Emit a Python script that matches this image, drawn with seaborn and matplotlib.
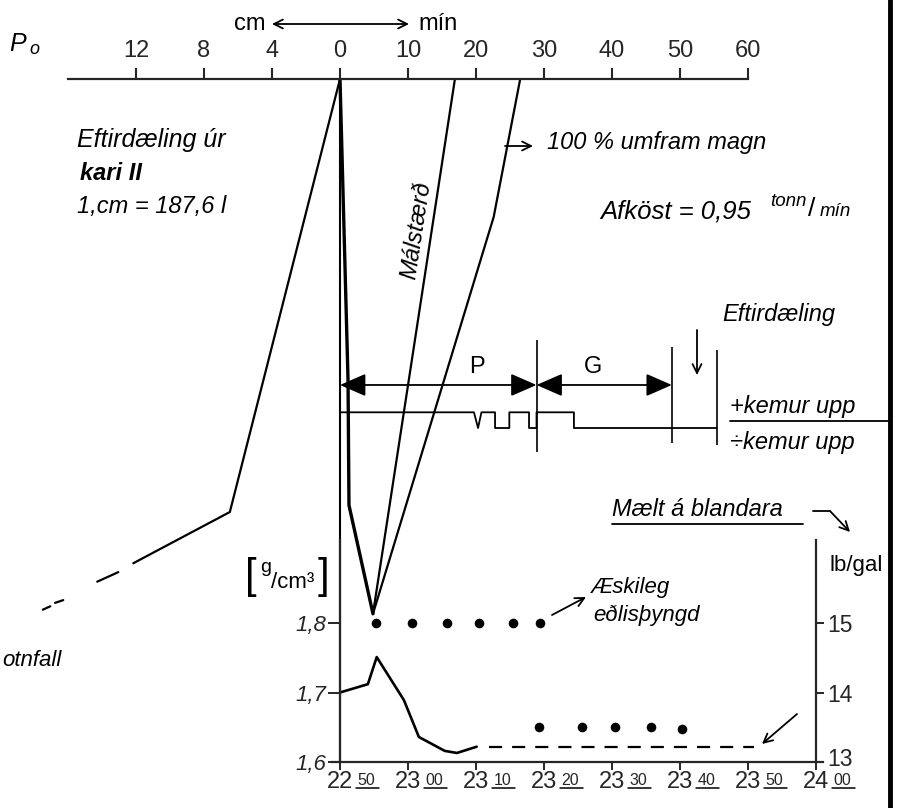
import matplotlib
matplotlib.use("Agg")
import matplotlib.pyplot as plt
from matplotlib.lines import Line2D
from matplotlib.patches import FancyArrowPatch
from matplotlib.transforms import ScaledTranslation
import seaborn as sns

W, H = 903, 808

# ---------------- data ----------------
# top scale: left of 0 in cm, right of 0 in minutes (4 cm == 10 min on paper)
top_ticks = [-30, -20, -10, 0, 10, 20, 30, 40, 50, 60]
top_tick_labels = ["12", "8", "4", "0", "10", "20", "30", "40", "50", "60"]

# upper diagram lines (x: top-scale units, y: depth below the top scale)
eftir_x = [0.0, -16.2, -30.4]
eftir_y = [0.0, 63.4, 70.9]
eftir_tail_x = [-32.6, -35.7, -40.7, -41.9, -42.6, -43.7]
eftir_tail_y = [72.2, 73.6, 76.3, 76.7, 77.2, 77.7]

vline_x = [0.0, 1.18, 1.32, 4.85]
vline_y = [0.0, 44.1, 62.4, 78.3]
malst_x = [16.9, 4.85]
malst_y = [0.0, 78.3]
umfram_x = [26.5, 22.6, 4.85]
umfram_y = [0.0, 20.2, 78.3]

# "kemur upp" signal (1 = +kemur upp, 0 = ÷kemur upp)
sig_t = [0, 19.7, 20.3, 20.8, 22.8, 22.8, 24.9, 24.9, 27.8, 27.8, 28.9, 28.9, 34.4, 34.4, 55.4]
sig_state = [1, 1, 0, 1, 1, 0, 0, 1, 1, 0, 0, 1, 1, 0, 0]

# phases
phase_bounds = [0.0, 28.9, 48.8]
phase_labels = ["P", "G"]
phase_label_x = [20.2, 37.2]
marker_t = [28.9, 48.8, 55.4]

# lower diagram: time in minutes after 22:50
time_ticks = [0, 10, 20, 30, 40, 50, 60, 70]
time_hours = ["22", "23", "23", "23", "23", "23", "23", "24"]
time_mins = ["50", "00", "10", "20", "30", "40", "50", "00"]

dens_t = [0.0, 4.1, 5.4, 9.4, 11.6, 15.4, 17.2, 20.1]
dens_v = [1.700, 1.712, 1.751, 1.689, 1.636, 1.616, 1.613, 1.622]
dens_dash_t = [21.9, 60.9]
dens_dash_v = [1.622, 1.622]

target_hi_t = [5.3, 10.6, 15.7, 20.4, 25.4, 29.4]
target_hi_v = [1.80] * 6
target_lo_t = [29.3, 35.6, 40.4, 45.7, 50.3]
target_lo_v = [1.65, 1.65, 1.65, 1.65, 1.648]

dens_ticks = [1.6, 1.7, 1.8]
dens_labels = ["1,6", "1,7", "1,8"]
lb_ticks = [13, 14, 15]

# ---------------- style ----------------
sns.set_style("white")
plt.rcParams["font.family"] = ["Liberation Sans", "DejaVu Sans"]
plt.rcParams["axes.unicode_minus"] = False
K = "black"
LW = 1.6

fig = plt.figure(figsize=(W / 100, H / 100), dpi=100)
fig.patch.set_facecolor("white")


def fx(px):
    return px / W


def fy(py):
    return 1 - py / H


def ftext(px, py, s, size=17, style="italic", ha="left", va="center", **kw):
    fig.text(fx(px), fy(py), s, fontsize=size, style=style, ha=ha, va=va, color=K, **kw)


def farrow(p0, p1, style="->", lw=1.3, ms=16):
    fig.add_artist(FancyArrowPatch(
        posA=(fx(p0[0]), fy(p0[1])), posB=(fx(p1[0]), fy(p1[1])),
        transform=fig.transFigure, arrowstyle=style, mutation_scale=ms,
        lw=lw, color=K, shrinkA=0, shrinkB=0))


def fline(xs, ys, lw=1.3):
    fig.add_artist(Line2D([fx(v) for v in xs], [fy(v) for v in ys],
                          transform=fig.transFigure, color=K, lw=lw))


# ---------------- main (upper) axes ----------------
px0, sx = 340.0, 6.8
ax = fig.add_axes([fx(px0 - 40 * sx), fy(762), 100 * sx / W, 683 / H])
ax.set_xlim(-40, 60)
ax.set_ylim(100, 0)
ax.patch.set_alpha(0)
for s in ["left", "right", "bottom"]:
    ax.spines[s].set_visible(False)
ax.spines["top"].set_linewidth(1.6)
ax.xaxis.tick_top()
ax.set_xticks(top_ticks, labels=top_tick_labels)
ax.tick_params(axis="x", direction="out", length=8, width=1.5, pad=4, labelsize=17)
ax.set_yticks([])
ax.set_xlabel("")
ax.set_ylabel("")
ax.grid(False)

# vertical zero line (common axis)
ax.axvline(0, color=K, lw=1.5)

sns.lineplot(x=eftir_x, y=eftir_y, sort=False, estimator=None, ax=ax, color=K, lw=LW, clip_on=False)
for i in range(0, len(eftir_tail_x), 2):
    sns.lineplot(x=eftir_tail_x[i:i + 2], y=eftir_tail_y[i:i + 2], sort=False, estimator=None,
                 ax=ax, color=K, lw=LW, clip_on=False)
sns.lineplot(x=vline_x, y=vline_y, sort=False, estimator=None, ax=ax, color=K, lw=2.4)
sns.lineplot(x=malst_x, y=malst_y, sort=False, estimator=None, ax=ax, color=K, lw=LW)
sns.lineplot(x=umfram_x, y=umfram_y, sort=False, estimator=None, ax=ax, color=K, lw=LW)

# signal
SIG_HI, SIG_AMP = 48.8, 2.3
sig_y = [SIG_HI + (1 - s) * SIG_AMP for s in sig_state]
sns.lineplot(x=sig_t, y=sig_y, sort=False, estimator=None, ax=ax, color=K, lw=1.3)

# phase arrows
ARR_Y = 44.8
for a, b, lab, lx in zip(phase_bounds[:-1], phase_bounds[1:], phase_labels, phase_label_x):
    ax.annotate("", xy=(b, ARR_Y), xytext=(a, ARR_Y),
                arrowprops=dict(arrowstyle="<|-|>,head_length=0.8,head_width=0.35",
                                mutation_scale=20, lw=1.3, color=K, shrinkA=0, shrinkB=0))
    ax.text(lx, ARR_Y - 2.7, lab, fontsize=17, ha="center", va="center", color=K)
for t, (y0, y1) in zip(marker_t, [(38.2, 54.6), (39.2, 53.3), (39.7, 53.6)]):
    ax.vlines(t, y0, y1, color=K, lw=1.2)

# ---------------- lower axes (density) ----------------
axb = fig.add_axes([fx(px0 - 1.2 * sx), fy(762), 72.2 * sx / W, 222 / H])
axb.set_xlim(-1.2, 71.0)
axb.set_ylim(1.6, 1.6 + 222 / 695)
axb.patch.set_alpha(0)
axb.spines["top"].set_visible(False)
axb.spines["right"].set_visible(False)
axb.spines["left"].set_position(("data", 0))
for s in ["left", "bottom"]:
    axb.spines[s].set_linewidth(1.6)

sns.lineplot(x=dens_t, y=dens_v, sort=False, estimator=None, ax=axb, color=K, lw=1.9)
sns.lineplot(x=dens_dash_t, y=dens_dash_v, sort=False, estimator=None, ax=axb, color=K,
             lw=1.6, linestyle=(0, (5.9, 4.5)))
sns.scatterplot(x=target_hi_t, y=target_hi_v, ax=axb, color=K, s=48, edgecolor=K, linewidth=0)
sns.scatterplot(x=target_lo_t, y=target_lo_v, ax=axb, color=K, s=48, edgecolor=K, linewidth=0)

axb.set_yticks(dens_ticks, labels=dens_labels)
for lab in axb.get_yticklabels():
    lab.set_style("italic")
axb.tick_params(axis="y", direction="out", length=9, width=1.4, pad=1, labelsize=16, left=True)
axb.set_xticks(time_ticks, labels=[""] * len(time_ticks))
axb.tick_params(axis="x", direction="out", length=6, width=1.4, bottom=True)
axb.set_xlabel("")
axb.set_ylabel("")
axb.grid(False)

tr = axb.get_xaxis_transform()
for t, hh, mm in zip(time_ticks, time_hours, time_mins):
    axb.text(t, -0.092, hh, transform=tr, fontsize=17, ha="center", va="center", clip_on=False)
    axb.text(t + 2.6, -0.05, mm, transform=tr, fontsize=11.5, ha="left", va="top", clip_on=False)
    axb.add_line(Line2D([t + 2.4, t + 5.8], [-0.115, -0.115], transform=tr, color=K, lw=1.1,
                        clip_on=False))

axr = axb.twinx()
axr.set_ylim(13, 13 + 222 / 69.5)
axr.patch.set_alpha(0)
for s in ["top", "left", "bottom"]:
    axr.spines[s].set_visible(False)
axr.spines["right"].set_position(("data", 70))
axr.spines["right"].set_linewidth(1.6)
axr.set_yticks(lb_ticks, labels=[str(v) for v in lb_ticks])
axr.tick_params(axis="y", direction="out", length=6, width=1.4, pad=2, labelsize=16.5, right=True)
axr.set_ylabel("")
axr.grid(False)
lift = ScaledTranslation(0, 5 / 100, fig.dpi_scale_trans)
for lab in axr.get_yticklabels():
    if lab.get_text() == "13":
        lab.set_transform(lab.get_transform() + lift)

# ---------------- texts & annotations ----------------
ftext(18, 44, "P", size=18, ha="center")
ftext(34, 50, "o", size=13, ha="center")

ftext(250, 24, "cm", style="normal", ha="center")
ftext(438, 24, "mín", style="normal", ha="center")
farrow((272, 24), (409, 24), style="<->", lw=1.3, ms=16)

ftext(77, 140, "Eftirdæling úr", size=18)
ftext(80, 173, "kari II", weight="bold")
ftext(77, 206, "1,cm = 187,6 l")

fig.text(fx(416), fy(230), "Málstærð", fontsize=17, style="italic", rotation=81.3,
         ha="center", va="center", color=K, rotation_mode="anchor")

farrow((505, 146), (533, 146), lw=1.3, ms=16)
ftext(547, 143, "100 % umfram magn")

ftext(600, 212, "Afköst = 0,95", size=18.5)
ftext(770, 202, "tonn", size=13.5)
ftext(808, 209, "/", size=19, style="normal")
ftext(820, 211, "mín", size=13.5)

ftext(722, 315, "Eftirdæling")
farrow((697, 330), (697, 375), lw=1.3, ms=16)

ftext(730, 407, "+kemur upp")
ftext(730, 442, "÷kemur upp")
fline([730, 889], [421, 421])

ftext(612, 509, "Mælt á blandara")
fline([612, 803], [524, 524])
fline([813, 830], [511, 511])
farrow((830, 511), (850, 532), lw=1.3, ms=16)

# density unit label [g/cm3]
ftext(251, 577, "[", size=30, style="normal", ha="center", weight="light")
ftext(323, 577, "]", size=30, style="normal", ha="center", weight="light")
ftext(266, 567, "g", size=14, style="normal", ha="center")
ftext(271, 583, "/cm³", size=16, style="normal")

ftext(856, 566, "lb/gal", size=16, style="normal", ha="center")

ftext(591, 587, "Æskileg", size=16)
ftext(593, 615, "eðlisþyngd", size=16)
farrow((552, 615), (586, 597), lw=1.3, ms=16)

farrow((797, 714), (762, 744), lw=1.3, ms=16)

ftext(2, 660, "otnfall", size=16)

# right-hand border of the scanned page
fig.add_artist(Line2D([fx(890), fx(890)], [0, 1], transform=fig.transFigure, color=K, lw=3.5))

fig.savefig("out.png", dpi=100, facecolor="white")
